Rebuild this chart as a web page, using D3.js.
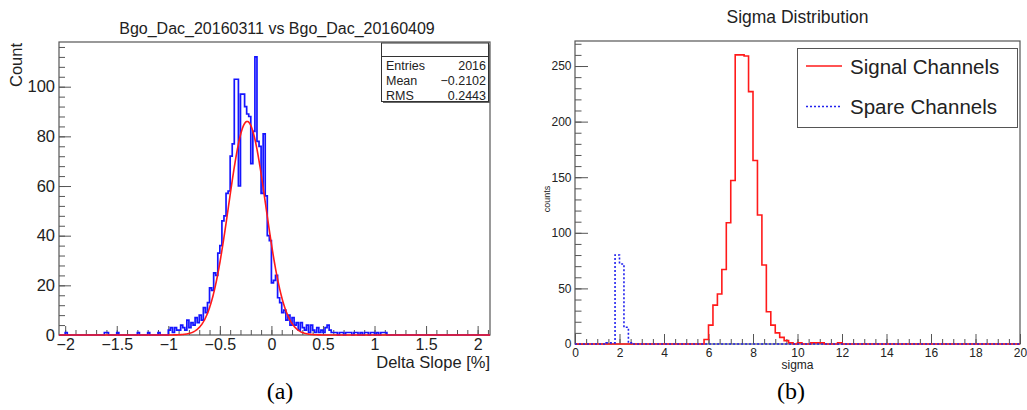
<!DOCTYPE html>
<html>
<head>
<meta charset="utf-8">
<script src="https://cdn.jsdelivr.net/npm/d3@7"></script>
<style>
body { margin: 0; background: #fff; }
svg { display: block; font-family: "Liberation Sans", Arial, Helvetica, sans-serif; }
</style>
</head>
<body>
<svg id="render" width="1027" height="410"></svg>
<script>
// ---------- panel (a): delta slope ----------
const slopeBinWidth = 0.02;
const slopeCoreStart = -1.0;
const slopeCoreCounts = [
    2, 3, 1, 3, 2, 2, 4, 3, 2, 6,
    3, 5, 4, 7, 5, 8, 6, 11, 9, 13,
    19, 18, 25, 24, 33, 36, 46, 48, 57, 58,
    72, 77, 103, 103, 60, 97, 97, 92, 89, 88,
    69, 82, 112, 78, 76, 57, 81, 56, 40, 38,
    21, 22, 24, 15, 13, 9, 10, 6, 8, 4,
    7, 4, 5, 2, 5, 3, 2, 4, 1, 4,
    2, 1, 3, 1, 2, 1, 3, 4, 2, 1,
    1, 1, 0, 1, 1, 0, 1, 1, 1, 0,
    1, 1, 0, 1, 0, 1, 1, 0, 1, 1,
    0, 1, 0, 1, 1, 1, 0
];
const slopeTail = [[-2.00, 1], [-1.62, 1], [-1.60, 1], [-1.50, 1], [-1.30, 1], [-1.20, 1], [-1.10, 1]];
const fitConst = 86, fitMean = -0.235, fitSigma = 0.18;
const statLabels = ["Entries", "Mean", "RMS"];
const statValues = ["2016", "\u22120.2102", "0.2443"];

// ---------- panel (b): sigma ----------
const sigmaBinWidth = 0.2;
const signalStart = 5.8;
const signalCounts = [4, 17, 35, 45, 67, 109, 147, 260, 260, 259, 227, 165, 116, 71, 29, 17, 10, 6, 3, 1];
const signalTail = [[10.0, 1], [10.6, 1], [10.8, 1], [11.0, 1], [11.8, 1]];
const spareStart = 1.4;
const spareCounts = [1, 1, 80, 72, 15, 1];
const legendNames = ["Signal Channels", "Spare Channels"];

const svg = d3.select("svg#render");
const frameColor = "#555";

const fillBins = (lo, hi, w, start, counts, extra) => {
    const n = Math.round((hi - lo) / w);
    const arr = new Array(n).fill(0);
    const off = Math.round((start - lo) / w);
    counts.forEach((c, i) => { arr[off + i] = c; });
    extra.forEach(([x, c]) => { arr[Math.round((x - lo) / w)] = c; });
    return arr.map((c, i) => ({x0: lo + i * w, x1: lo + (i + 1) * w, c}));
};

const stepPath = (bins, x, y) => {
    const pts = [[x(bins[0].x0), y(0)]];
    bins.forEach(b => {
        pts.push([x(b.x0), y(b.c)]);
        pts.push([x(b.x1), y(b.c)]);
    });
    pts.push([x(bins[bins.length - 1].x1), y(0)]);
    return d3.line()(pts);
};

const minus = s => String(s).replace("-", "\u2212");

const drawAxes = (g, x, y, o) => {
    const fmtX = o.fmtX || (d => minus(d));
    // minor ticks
    g.append("g").attr("transform", `translate(0,${y.range()[0]})`)
        .call(d3.axisBottom(x).tickValues(o.xMinor).tickSize(-o.xMinorLen).tickFormat(""));
    g.append("g").attr("transform", `translate(0,${y.range()[0]})`)
        .call(d3.axisBottom(x).tickValues(o.xMajor).tickSize(-o.xMajorLen).tickPadding(o.xPad).tickFormat(fmtX))
        .selectAll("text").style("font-size", o.xFont + "px");
    g.append("g").attr("transform", `translate(${x.range()[0]},0)`)
        .call(d3.axisLeft(y).tickValues(o.yMinor).tickSize(-o.yMinorLen).tickFormat(""));
    g.append("g").attr("transform", `translate(${x.range()[0]},0)`)
        .call(d3.axisLeft(y).tickValues(o.yMajor).tickSize(-o.yMajorLen).tickPadding(o.yPad).tickFormat(d => d))
        .selectAll("text").style("font-size", o.yFont + "px");
    g.selectAll(".domain").remove();
    g.selectAll(".tick line").attr("stroke", frameColor);
    g.selectAll(".tick text").attr("fill", "#222");
};

// ================= panel (a) =================
const xA = d3.scaleLinear().domain([-2.06, 2.12]).range([59, 490]);
const yA = d3.scaleLinear().domain([0, 118]).range([335, 42]);
const gA = svg.append("g");

gA.append("rect")
    .attr("x", xA.range()[0]).attr("y", yA.range()[1])
    .attr("width", xA.range()[1] - xA.range()[0])
    .attr("height", yA.range()[0] - yA.range()[1])
    .attr("fill", "none").attr("stroke", frameColor).attr("stroke-width", 1.2);

drawAxes(gA, xA, yA, {
    xMajor: d3.range(-2, 2.01, 0.5).map(v => +v.toFixed(1)),
    xMinor: d3.range(-2, 2.11, 0.1).map(v => +v.toFixed(1)),
    xMajorLen: 9, xMinorLen: 5, xPad: 3.5, xFont: 16,
    yMajor: d3.range(0, 101, 20),
    yMinor: d3.range(0, 117, 4),
    yMajorLen: 12, yMinorLen: 6, yPad: 4, yFont: 16.5
});

const slopeBins = fillBins(-2.06, 2.12, slopeBinWidth, slopeCoreStart, slopeCoreCounts, slopeTail);
gA.append("path")
    .attr("d", stepPath(slopeBins, xA, yA))
    .attr("fill", "none").attr("stroke", "#1515ff").attr("stroke-width", 1.7);

const fitLine = d3.line().x(d => xA(d)).y(d => yA(fitConst * Math.exp(-0.5 * ((d - fitMean) / fitSigma) ** 2)));
gA.append("path")
    .attr("d", fitLine(d3.range(-2.06, 2.1201, 0.005)))
    .attr("fill", "none").attr("stroke", "#ff1a1a").attr("stroke-width", 1.6);

// stats box
const sb = gA.append("g");
sb.append("rect").attr("x", 383).attr("y", 44.5).attr("width", 107).attr("height", 58.5).attr("fill", "#666");
sb.append("rect").attr("x", 381.5).attr("y", 43).attr("width", 107).attr("height", 58.5)
    .attr("fill", "#fff").attr("stroke", "#333").attr("stroke-width", 1);
sb.append("line").attr("x1", 381.5).attr("x2", 488.5).attr("y1", 56.5).attr("y2", 56.5).attr("stroke", "#333");
statLabels.forEach((s, i) => {
    sb.append("text").attr("x", 386).attr("y", 70 + i * 15).attr("font-size", 12.5).attr("fill", "#222").text(s);
    sb.append("text").attr("x", 486).attr("y", 70 + i * 15).attr("font-size", 12.5).attr("fill", "#222")
        .attr("text-anchor", "end").text(statValues[i]);
});

gA.append("text").attr("x", 277).attr("y", 34).attr("text-anchor", "middle")
    .attr("font-size", 16).attr("fill", "#222").text("Bgo_Dac_20160311 vs Bgo_Dac_20160409");
gA.append("text").attr("transform", "translate(22,43) rotate(-90)").attr("text-anchor", "end")
    .attr("font-size", 16.5).attr("fill", "#222").text("Count");
gA.append("text").attr("x", 490).attr("y", 368).attr("text-anchor", "end")
    .attr("font-size", 16.5).attr("fill", "#222").text("Delta Slope [%]");
gA.append("text").attr("x", 280).attr("y", 399).attr("text-anchor", "middle")
    .attr("font-family", "'Liberation Serif', 'Times New Roman', serif")
    .attr("font-size", 24).attr("fill", "#000").text("(a)");

// ================= panel (b) =================
const xB = d3.scaleLinear().domain([0, 20]).range([575, 1020]);
const yB = d3.scaleLinear().domain([0, 272.5]).range([344, 41]);
const gB = svg.append("g");

gB.append("rect")
    .attr("x", xB.range()[0]).attr("y", yB.range()[1])
    .attr("width", xB.range()[1] - xB.range()[0])
    .attr("height", yB.range()[0] - yB.range()[1])
    .attr("fill", "none").attr("stroke", frameColor).attr("stroke-width", 1.2);

drawAxes(gB, xB, yB, {
    xMajor: d3.range(0, 21, 2),
    xMinor: d3.range(0, 20.01, 0.5),
    xMajorLen: 10, xMinorLen: 5, xPad: 4.5, xFont: 12, fmtX: d => d,
    yMajor: d3.range(0, 251, 50),
    yMinor: d3.range(0, 271, 10),
    yMajorLen: 13, yMinorLen: 6.5, yPad: 3.5, yFont: 12
});

const signalBins = fillBins(0, 20, sigmaBinWidth, signalStart, signalCounts, signalTail);
const spareBins = fillBins(0, 20, sigmaBinWidth, spareStart, spareCounts, []);
gB.append("path")
    .attr("d", stepPath(signalBins, xB, yB))
    .attr("fill", "none").attr("stroke", "#ff1a1a").attr("stroke-width", 1.6);
gB.append("path")
    .attr("d", stepPath(spareBins, xB, yB))
    .attr("fill", "none").attr("stroke", "#2222ee").attr("stroke-width", 1.6)
    .attr("stroke-dasharray", "2,2");

// legend
const lg = gB.append("g");
lg.append("rect").attr("x", 797.5).attr("y", 48.5).attr("width", 220).attr("height", 79)
    .attr("fill", "#fff").attr("stroke", "#555").attr("stroke-width", 1);
legendNames.forEach((s, i) => {
    const ly = 66 + i * 40.5;
    lg.append("line").attr("x1", 806).attr("x2", 842).attr("y1", ly).attr("y2", ly)
        .attr("stroke", i === 0 ? "#ff1a1a" : "#2222ee").attr("stroke-width", 1.6)
        .attr("stroke-dasharray", i === 0 ? null : "2,2");
    lg.append("text").attr("x", 850).attr("y", ly + 7.5).attr("font-size", 20.5).attr("fill", "#222").text(s);
});

gB.append("text").attr("x", 797.5).attr("y", 22.5).attr("text-anchor", "middle")
    .attr("font-size", 17.5).attr("fill", "#222").text("Sigma Distribution");
gB.append("text").attr("x", 797.5).attr("y", 369).attr("text-anchor", "middle")
    .attr("font-size", 12).attr("fill", "#222").text("sigma");
gB.append("text").attr("transform", "translate(550,199) rotate(-90)").attr("text-anchor", "middle")
    .attr("font-size", 9).attr("fill", "#222").text("counts");
gB.append("text").attr("x", 791).attr("y", 399).attr("text-anchor", "middle")
    .attr("font-family", "'Liberation Serif', 'Times New Roman', serif")
    .attr("font-size", 24).attr("fill", "#000").text("(b)");
</script>
</body>
</html>
